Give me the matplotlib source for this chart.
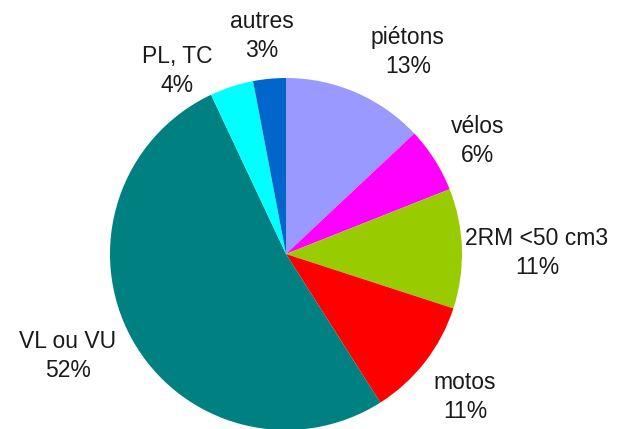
import matplotlib.pyplot as plt

# Data
categories = ["piétons", "vélos", "2RM <50 cm3", "motos", "VL ou VU", "PL, TC", "autres"]
shares = [13, 6, 11, 11, 52, 4, 3]
colors = ["#9999FF", "#FF00FF", "#99CC00", "#FF0000", "#008080", "#00FFFF", "#0066CC"]

# label anchor positions in pixels (x, y from top)
label_pos = [(408, 52), (478, 141), (537, 253), (465, 397), (68, 356), (177, 71), (262, 36)]

plt.rcParams['font.family'] = ['Liberation Sans', 'DejaVu Sans']

W, H = 632, 429
fig = plt.figure(figsize=(W / 100, H / 100), dpi=100)
ax = fig.add_axes([0, 0, 1, 1])

cx, cy, r = 286, H - 254, 176
ax.pie(shares, colors=colors, startangle=90, counterclock=False,
       center=(cx, cy), radius=r, frame=True,
       wedgeprops=dict(linewidth=0))
ax.set_xlim(0, W)
ax.set_ylim(0, H)
ax.set_aspect('equal')
ax.axis('off')

for name, val, (x, y) in zip(categories, shares, label_pos):
    ax.text(x, H - y, f"{name}\n{val}%", ha='center', va='center',
            fontsize=16.5, color='#1a1a1a', linespacing=1.35)

fig.savefig("out.png", dpi=100)
